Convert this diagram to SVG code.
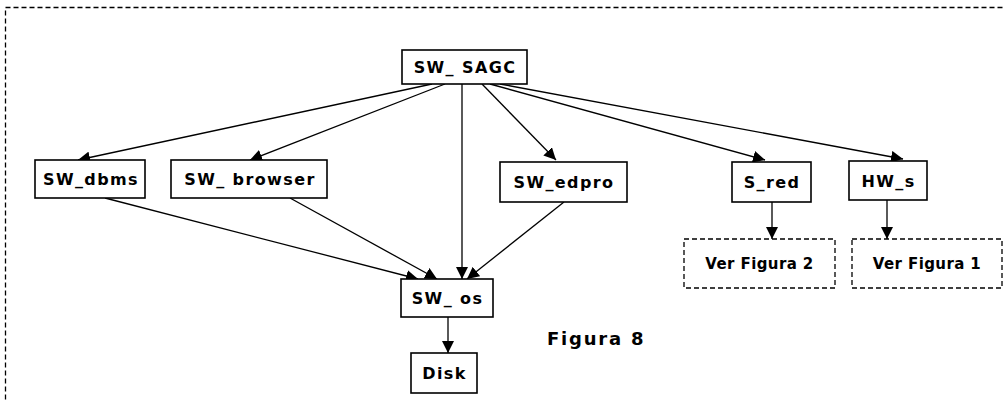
<svg xmlns="http://www.w3.org/2000/svg" width="1004" height="402" viewBox="0 0 1004 402">
  <style>
    .box { fill: #fff; stroke: #000; stroke-width: 1.6; }
    .ref { fill: #fff; stroke: #000; stroke-width: 1.3; stroke-dasharray: 5 3; }
    .lbl { font-family: "DejaVu Sans", Verdana, sans-serif; font-weight: bold; font-size: 16px; letter-spacing: 1.4px; fill: #000; text-anchor: middle; }
    .sm { font-family: "DejaVu Sans", Tahoma, sans-serif; font-weight: bold; font-size: 15px; letter-spacing: 0.4px; fill: #000; text-anchor: middle; }
    .cap { font-family: "DejaVu Sans", Verdana, sans-serif; font-weight: bold; font-size: 18px; letter-spacing: 1.8px; fill: #000; }
    .edge { stroke: #000; stroke-width: 1.3; fill: none; marker-end: url(#arr); }
  </style>
  <defs>
    <marker id="arr" viewBox="0 0 10 10" refX="10" refY="5" markerWidth="12" markerHeight="12" markerUnits="userSpaceOnUse" orient="auto">
      <path d="M0,0 L10,5 L0,10 z" fill="#000"/>
    </marker>
  </defs>
  <rect width="1004" height="402" fill="#fff"/>
  <!-- outer dashed frame, running past the right and bottom edges -->
  <rect x="5.5" y="7.5" width="1010" height="410" fill="none" stroke="#000" stroke-width="1.3" stroke-dasharray="5 3"/>

  <g id="connectors">
    <line class="edge" x1="432" y1="84" x2="78" y2="160"/>
    <line class="edge" x1="445" y1="84" x2="250" y2="160"/>
    <line class="edge" x1="462" y1="84" x2="462" y2="279"/>
    <line class="edge" x1="482" y1="84" x2="556" y2="160"/>
    <line class="edge" x1="490" y1="84" x2="765" y2="160"/>
    <line class="edge" x1="500" y1="84" x2="903" y2="159"/>
    <line class="edge" x1="105" y1="198" x2="418" y2="279"/>
    <line class="edge" x1="290" y1="198" x2="437" y2="279"/>
    <line class="edge" x1="564" y1="202" x2="467" y2="279"/>
    <line class="edge" x1="772" y1="202" x2="772" y2="239"/>
    <line class="edge" x1="887" y1="200" x2="887" y2="239"/>
    <line class="edge" x1="448" y1="317" x2="448" y2="353"/>
  </g>

  <g id="sw_sagc">
    <rect class="box" x="402" y="50" width="125" height="34"/>
    <text class="lbl" x="465" y="73">SW_ SAGC</text>
  </g>
  <g id="sw_dbms">
    <rect class="box" x="35" y="160" width="110" height="38"/>
    <text class="lbl" x="91" y="185">SW_dbms</text>
  </g>
  <g id="sw_browser">
    <rect class="box" x="171" y="160" width="156" height="38"/>
    <text class="lbl" x="250" y="185">SW_ browser</text>
  </g>
  <g id="sw_edpro">
    <rect class="box" x="500" y="162" width="127" height="40"/>
    <text class="lbl" x="564" y="188">SW_edpro</text>
  </g>
  <g id="s_red">
    <rect class="box" x="732" y="162" width="79" height="40"/>
    <text class="lbl" x="772" y="188">S_red</text>
  </g>
  <g id="hw_s">
    <rect class="box" x="849" y="161" width="78" height="39"/>
    <text class="lbl" x="888.5" y="187">HW_s</text>
  </g>
  <g id="ver_figura_2">
    <rect class="ref" x="684" y="239" width="151" height="49"/>
    <text class="sm" x="759.5" y="269">Ver Figura 2</text>
  </g>
  <g id="ver_figura_1">
    <rect class="ref" x="852" y="239" width="150" height="49"/>
    <text class="sm" x="927" y="269">Ver Figura 1</text>
  </g>
  <g id="sw_os">
    <rect class="box" x="401" y="279" width="92" height="38"/>
    <text class="lbl" x="447.5" y="304">SW_ os</text>
  </g>
  <g id="disk">
    <rect class="box" x="411" y="353" width="66" height="40"/>
    <text class="lbl" x="444.5" y="379">Disk</text>
  </g>
  <text class="cap" x="547" y="345">Figura 8</text>
</svg>
